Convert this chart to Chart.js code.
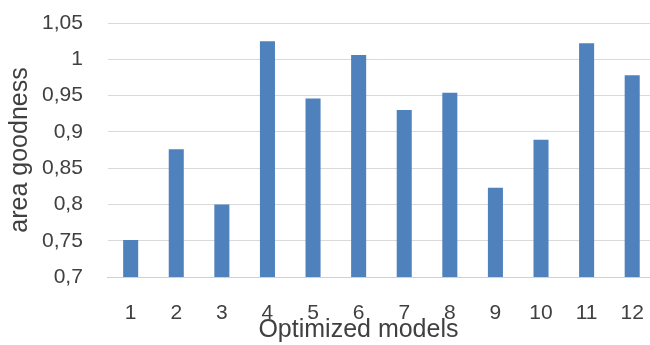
<!DOCTYPE html>
<html>
<head>
<meta charset="utf-8">
<script src="https://cdn.jsdelivr.net/npm/chart.js@4/dist/chart.umd.min.js"></script>
<style>
  html, body { margin: 0; padding: 0; background: #ffffff; overflow: hidden; }
  canvas { display: block; }
</style>
</head>
<body>
<canvas id="chart" width="655" height="350"></canvas>
<script>
// Model numbers along the x axis
const models = ['1', '2', '3', '4', '5', '6', '7', '8', '9', '10', '11', '12'];
// Area goodness reached by each optimized model
const areaGoodness = [0.751, 0.876, 0.800, 1.025, 0.946, 1.006, 0.930, 0.954, 0.823, 0.889, 1.022, 0.978];
// Value axis range and tick step
const yMin = 0.7;
const yMax = 1.05;
const yStep = 0.05;

const xTitle = 'Optimized models';
const yTitle = 'area goodness';

const textColor = '#404040';
const fontFamily = '"Liberation Sans", Arial, sans-serif';

// Decimal comma, no trailing zeros: 0,7 / 0,75 / 1 / 1,05
function commaLabel(v) {
  return String(Math.round(v * 100) / 100).replace('.', ',');
}

// Category-axis title, set a little left of the plot centre and just under the tick labels
const xAxisTitle = {
  id: 'xAxisTitle',
  afterDraw(chart) {
    const { ctx } = chart;
    const x = chart.scales.x;
    ctx.save();
    ctx.font = '25px ' + fontFamily;
    ctx.fillStyle = textColor;
    ctx.textAlign = 'center';
    ctx.textBaseline = 'alphabetic';
    ctx.fillText(xTitle, (x.left + x.right) / 2 - 23, x.bottom + 13);
    ctx.restore();
  }
};

new Chart(document.getElementById('chart'), {
  type: 'bar',
  data: {
    labels: models,
    datasets: [{
      data: areaGoodness,
      backgroundColor: '#4F81BD',
      borderWidth: 0,
      barPercentage: 0.33,
      categoryPercentage: 1.0
    }]
  },
  plugins: [xAxisTitle],
  options: {
    responsive: false,
    animation: false,
    devicePixelRatio: 1,
    layout: { padding: { top: 23, left: 0, right: 0, bottom: 26 } },
    plugins: {
      legend: { display: false },
      tooltip: { enabled: false }
    },
    scales: {
      x: {
        // grid hidden; tickLength only spaces the labels below the axis
        grid: { display: false, drawTicks: true, tickLength: 26 },
        border: { display: true, color: '#d0d0d0', width: 1 },
        ticks: {
          color: textColor,
          padding: 0,
          font: { family: fontFamily, size: 21, lineHeight: 1 }
        }
      },
      y: {
        min: yMin,
        max: yMax,
        grid: { color: '#d9d9d9', lineWidth: 1, drawTicks: true, tickLength: 20, tickColor: 'rgba(0,0,0,0)' },
        border: { display: false },
        ticks: {
          stepSize: yStep,
          color: textColor,
          padding: 5,
          font: { family: fontFamily, size: 21, lineHeight: 1.2 },
          callback: (v) => commaLabel(v)
        },
        title: {
          display: true,
          text: yTitle,
          color: textColor,
          padding: { top: 8, bottom: 4 },
          font: { family: fontFamily, size: 25, lineHeight: 1 }
        }
      }
    }
  }
});
</script>
</body>
</html>
